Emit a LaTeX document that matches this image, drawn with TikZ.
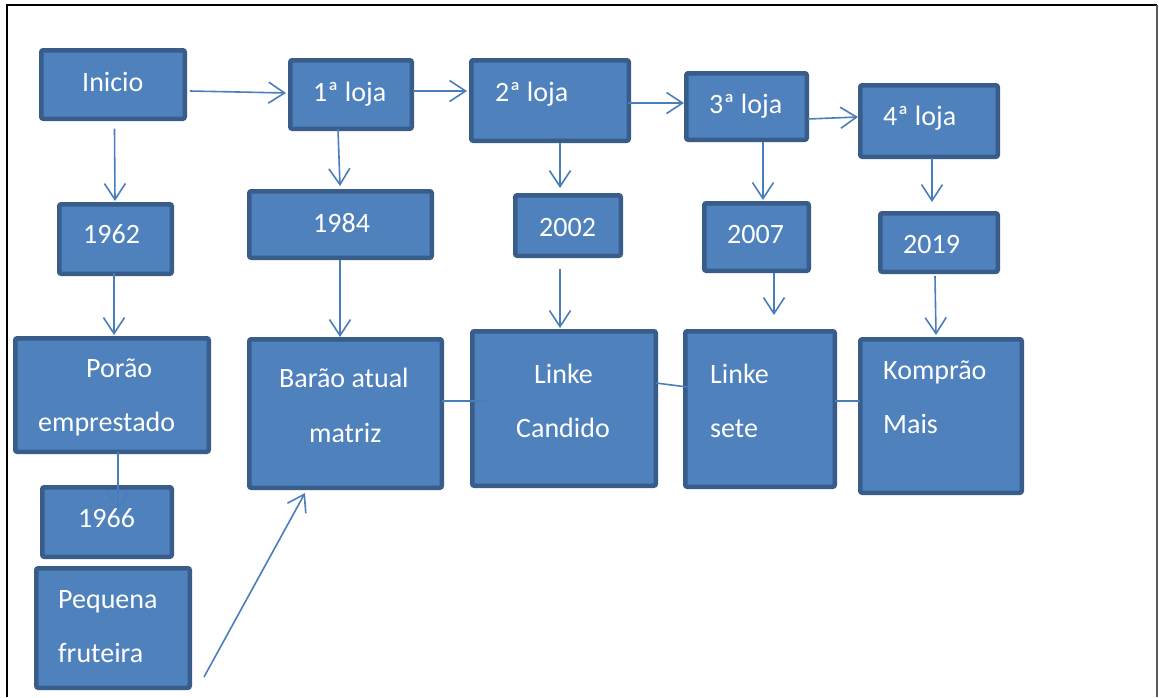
\documentclass[tikz,border=0pt]{standalone}
\usepackage{fontspec}
\setmainfont{Carlito}
\usetikzlibrary{arrows.meta,calc}
\definecolor{boxf}{HTML}{4F81BD}
\definecolor{boxb}{HTML}{385D8A}
\definecolor{conn}{HTML}{4A7EBB}
\definecolor{framegray}{HTML}{5A5A5A}
\tikzset{
  box/.style={draw=boxb, fill=boxf, line width=4.5pt, rounded corners=2pt, inner sep=0pt},
  txt/.style={text=white, font=\fontsize{28}{34}\selectfont, inner sep=0pt, anchor=base west},
  arr/.style={draw=conn, line width=1.6pt, -{Straight Barb[length=16pt,width=21pt,line width=1.6pt]}},
  ln/.style={draw=conn, line width=1.6pt},
}
\newcommand\bx[5]{\node[box, minimum width={#4-#2-4.5}, minimum height={#5-#3-4.5}] (#1) at ({(#2+#4)/2},{(#3+#5)/2}) {};}
\begin{document}
\begin{tikzpicture}[x=1pt,y=-1pt]
\useasboundingbox (0,0) rectangle (1159,697);
\fill[white] (0,0) rectangle (1159,697);
% frame
\coordinate (fbl) at (7,697);
\coordinate (ftl) at (7,5);
\coordinate (ftr) at (1157,5);
\coordinate (fbr) at (1157,697);
\draw[black, line width=2.4pt] (fbl) -- (ftl) -- (ftr);
\draw[framegray, line width=1.6pt] (ftr) -- (fbr);
% boxes
\bx{inicio}{39}{48}{187}{121}
\bx{l1}{288}{58}{414}{131}
\bx{l2}{469}{58}{631}{143}
\bx{l3}{684}{71}{809}{142}
\bx{l4}{858}{83}{1000}{159}
\bx{y62}{57}{202}{174}{276}
\bx{y84}{247}{189}{434}{260}
\bx{y02}{513}{193}{623}{258}
\bx{y07}{702}{201}{811}{273}
\bx{y19}{878}{211}{1000}{274}
\bx{porao}{13}{336}{211}{454}
\bx{barao}{247}{337}{444}{490}
\bx{candido}{470}{329}{658}{488}
\bx{sete}{683}{329}{837}{489}
\bx{kompra}{858}{337}{1024}{495}
\bx{y66}{40}{485}{174}{559}
\bx{frut}{34}{566}{192}{690}
% texts
\node[txt] (tinicio) at (82,91) {Inicio};
\node[txt] (tl1) at (313,101) {1ª loja};
\node[txt] (tl2) at (495,101) {2ª loja};
\node[txt] (tl3) at (709,113) {3ª loja};
\node[txt] (tl4) at (883,125) {4ª loja};
\node[txt] (ty62) at (83,243) {1962};
\node[txt] (ty84) at (313,232) {1984};
\node[txt] (ty02) at (539,236) {2002};
\node[txt] (ty07) at (727,243) {2007};
\node[txt] (ty19) at (903,253) {2019};
\node[txt] (tporaoa) at (86,377) {Porão};
\node[txt] (tporaob) at (38,431) {emprestado};
\node[txt] (tbaraoa) at (279,387) {Barão atual};
\node[txt] (tbaraob) at (309,442) {matriz};
\node[txt] (tcandidoa) at (534,383) {Linke};
\node[txt] (tcandidob) at (516,437) {Candido};
\node[txt] (tsetea) at (710,383) {Linke};
\node[txt] (tseteb) at (710,437) {sete};
\node[txt] (tkompraa) at (883,379) {Komprão};
\node[txt] (tkomprab) at (883,433) {Mais};
\node[txt] (ty66) at (78,527) {1966};
\node[txt] (tfruta) at (58,608) {Pequena};
\node[txt] (tfrutb) at (58,662) {fruteira};
% connectors
\draw[arr] ($(inicio.east)+(3,6.5)$) -- ($(l1.west)+(-2,-1.5)$);
\draw[arr] ($(l1.east)+(-1,-3.5)$) -- ($(l2.west)+(-2,-9.5)$);
\draw[arr] ($(l2.east)+(-3,2.5)$) -- ($(l3.west)+(0,-3.5)$);
\draw[arr] ($(l3.east)+(-1,12.5)$) -- ($(l4.west)+(0,-4)$);
\draw[arr] ($(inicio.south)+(1.5,7.5)$) -- ($(y62.north)+(-0.5,-1)$);
\draw[arr] ($(l1.south)+(-13,-2)$) -- ($(y84.north)+(-0.5,-3)$);
\draw[arr] ($(l2.south)+(10,0)$) -- ($(y02.north)+(-8,-5)$);
\draw[arr] ($(l3.south)+(16.5,0)$) -- ($(y07.north)+(6.5,-1)$);
\draw[arr] ($(l4.south)+(3,-1)$) -- ($(y19.north)+(-7,-9)$);
\draw[arr] ($(y62.south)+(-1.5,-3)$) -- ($(porao.north)+(2,-1)$);
\draw[arr] ($(y84.south)+(-0.5,0)$) -- ($(barao.north)+(-5.5,0)$);
\draw[arr] ($(y02.south)+(-8,11)$) -- ($(candido.north)+(-4,-1)$);
\draw[arr] ($(y07.south)+(17.5,0)$) -- ($(sete.north)+(14,-14)$);
\draw[arr] ($(y19.south)+(-4,2)$) -- ($(kompra.north)+(-5,-2)$);
\draw[arr] ($(porao.south)+(6,-2)$) -- ($(y66.north)+(11,25)$);
\draw[arr] ($(frut.east)+(12,49)$) -- ($(barao.south)+(-40.5,3)$);
\draw[ln] ($(barao.east)+(-2,-12.5)$) -- ($(candido.west)+(19,-7.5)$);
\draw[ln] ($(candido.east)+(-2,-25.5)$) -- ($(sete.west)+(4,-22)$);
\draw[ln] ($(sete.east)+(-2,-8)$) -- ($(kompra.west)+(2,-15)$);
\end{tikzpicture}
\end{document}
